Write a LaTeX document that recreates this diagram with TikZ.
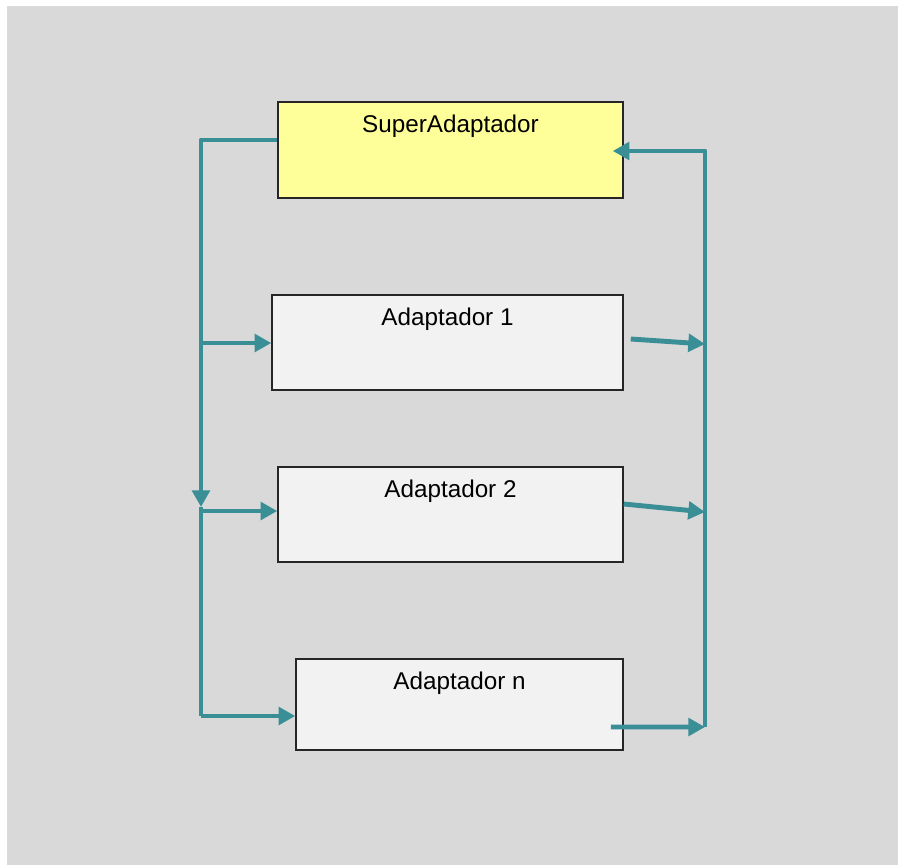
\documentclass[tikz,border=0pt]{standalone}
\usepackage{fontspec}
\setmainfont{Liberation Sans}
\usepackage{xcolor}
\usepackage{tikz}
\usetikzlibrary{arrows.meta, positioning}
\definecolor{bggray}{HTML}{D9D9D9}
\definecolor{boxgray}{HTML}{F2F2F2}
\definecolor{supyellow}{HTML}{FFFF99}
\definecolor{busteal}{HTML}{3A8F96}

\begin{document}
\begin{tikzpicture}[x=0.02cm, y=-0.02cm,
  adapt/.style={rectangle, draw=black!85, line width=0.9pt, fill=boxgray, minimum height=1.9cm, inner sep=0pt},
  title/.style={anchor=north, font=\fontsize{13.8}{16}\selectfont, yshift=-4.5pt},
  bus/.style={draw=busteal, line width=2.8pt, line join=round},
  flow/.style={bus, -{Triangle[length=9.5pt, width=10pt]}}
]
  % canvas
  \fill[white] (0,0) rectangle (898,865);
  \fill[bggray] (7,6) rectangle (898,865);

  \node[adapt, fill=supyellow, minimum width=6.9cm, minimum height=1.92cm,
        label={[title, name=supt]north:SuperAdaptador}] (sup) at (450.5,150) {};
  \node[adapt, minimum width=7.02cm,
        label={[title, name=ad1t]north:Adaptador 1}] (ad1) at (447.5,342.5) {};
  \node[adapt, minimum width=6.9cm,
        label={[title, name=ad2t]north:Adaptador 2}] (ad2) at (450.5,514.5) {};
  \node[adapt, minimum width=6.54cm, minimum height=1.82cm,
        label={[title, name=adnt]north:Adaptador n}] (adn) at (459.5,704.5) {};

  % left bus
  \coordinate (lt) at (201,140);
  \coordinate (l1) at (201,343);
  \coordinate (ld) at (201,507);
  \coordinate (l2) at (201,511);
  \coordinate (lb) at (201,716);
  \draw[bus] ([shift={(0,-10)}]sup.west) -- (lt) -- (l1);
  \draw[flow] (l1) -- (ld);
  \draw[bus] (ld) -- (lb);
  \draw[flow] (l1) -- (l1 -| ad1.west);
  \draw[flow] (l2) -- (l2 -| ad2.west);
  \draw[flow] (lb) -- (lb -| adn.west);

  % right bus
  \coordinate (rt) at (705,151);
  \coordinate (r1) at (705,344);
  \coordinate (r2) at (705,512);
  \coordinate (rb) at (705,727);
  \draw[flow] (rb) -- (rt) -- ([shift={(-11,1)}]sup.east);
  \draw[flow] ([shift={(7,-3.5)}]ad1.east) -- (r1);
  \draw[flow] ([shift={(0,-10.5)}]ad2.east) -- (r2);
  \draw[flow] ([shift={(-13,22.5)}]adn.east) -- (rb);
\end{tikzpicture}
\end{document}
